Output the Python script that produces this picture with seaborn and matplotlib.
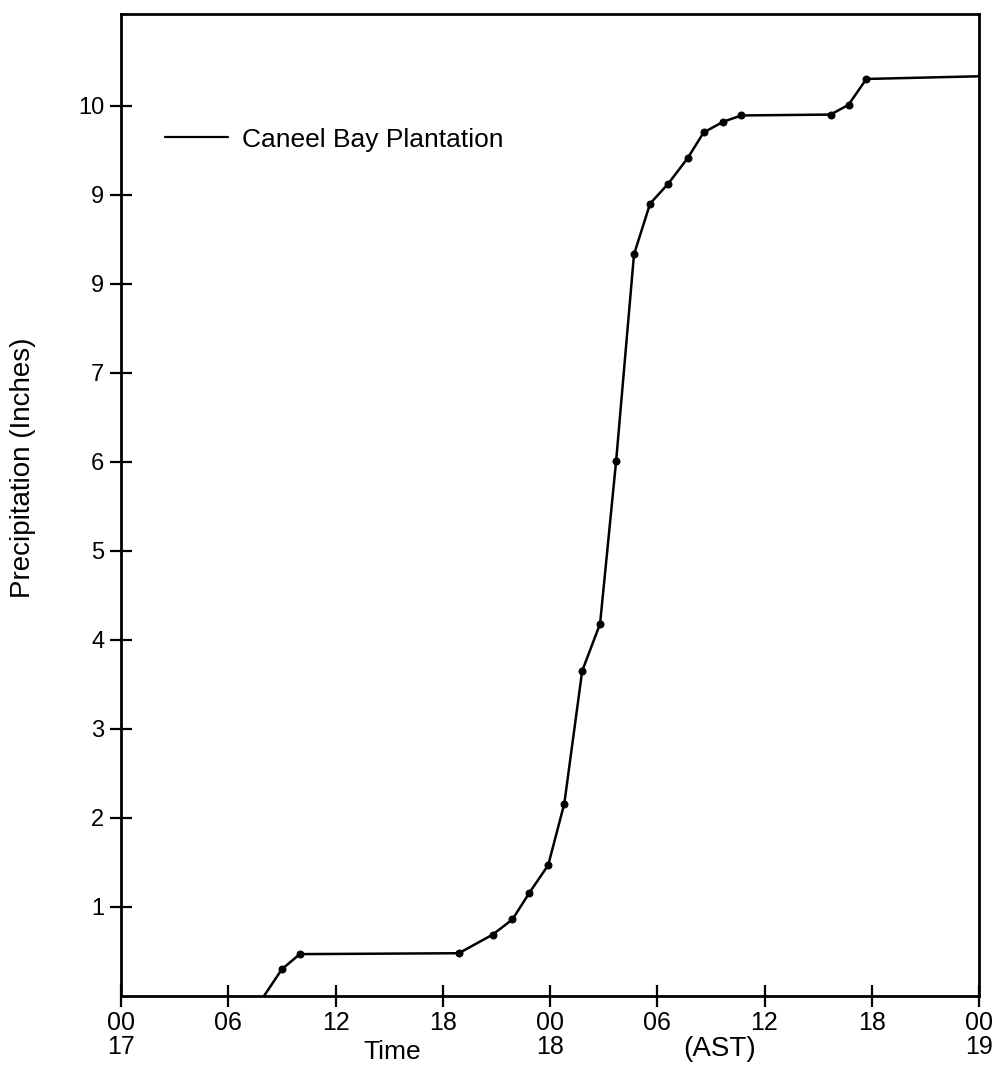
import matplotlib
matplotlib.use("Agg")
import matplotlib.pyplot as plt
from matplotlib.lines import Line2D
import seaborn as sns
import pandas as pd

# ---- data (hours since 00 AST on the 17th, cumulative inches) ----
hours = [8.0, 9.0, 10.0, 18.9, 20.8, 21.9, 22.85, 23.9, 24.8, 25.8, 26.8,
         27.7, 28.7, 29.6, 30.6, 31.7, 32.6, 33.7, 34.7, 39.7, 40.7, 41.7, 48.0]
precip = [0.0, 0.30, 0.47, 0.48, 0.69, 0.86, 1.16, 1.47, 2.16, 3.65, 4.18,
          6.01, 8.33, 8.90, 9.12, 9.41, 9.70, 9.82, 9.89, 9.90, 10.01, 10.30, 10.33]
series_name = "Caneel Bay Plantation"

x_ticks = [0, 6, 12, 18, 24, 30, 36, 42, 48]
x_tick_labels = ["00\n17", "06", "12", "18", "00\n18", "06", "12", "18", "00\n19"]
y_ticks = [1, 2, 3, 4, 5, 6, 7, 8, 9, 10]
y_tick_labels = ["1", "2", "3", "4", "5", "6", "7", "9", "9", "10"]

df = pd.DataFrame({"hour": hours, "precip": precip})

sns.set_theme(style="ticks")
plt.rcParams["font.family"] = ["Liberation Sans", "DejaVu Sans"]
plt.rcParams["text.color"] = "black"

fig = plt.figure(figsize=(10, 10.66), dpi=100)
ax = fig.add_axes([0.121, 0.0657, 0.858, 0.9212])

sns.lineplot(data=df, x="hour", y="precip", ax=ax, color="black",
             linewidth=1.8, marker="o", markersize=5,
             markeredgecolor="black", markerfacecolor="black",
             markevery=list(range(1, len(hours) - 1)), estimator=None,
             sort=False)

ax.set_xlim(0, 48)
ax.set_ylim(0, 11.03)
ax.set_xticks(x_ticks)
ax.set_xticklabels(x_tick_labels, fontsize=18, linespacing=1.0)
ax.set_yticks(y_ticks)
ax.set_yticklabels(y_tick_labels, fontsize=17)
ax.tick_params(axis="both", direction="inout", length=16, width=1.6,
               color="black", labelcolor="black")
ax.tick_params(axis="x", pad=3)
ax.tick_params(axis="y", pad=4)
for s in ax.spines.values():
    s.set_visible(True)
    s.set_color("black")
    s.set_linewidth(2.0)
ax.set_xlabel("")
ax.set_ylabel("")

ax.legend(handles=[Line2D([], [], color="black", linewidth=1.6)],
          labels=[series_name], frameon=False, loc="center left",
          bbox_to_anchor=(0.051, 0.872), fontsize=19, handlelength=2.4,
          handletextpad=0.53, borderpad=0, borderaxespad=0)

fig.text(0.023, 0.561, "Precipitation (Inches)", rotation=90,
         ha="center", va="center", fontsize=20)
fig.text(0.392, 1 - 1052 / 1066, "Time", ha="center", va="center", fontsize=19)
fig.text(0.720, 1 - 1049 / 1066, "(AST)", ha="center", va="center", fontsize=20)

fig.savefig("out.png", dpi=100)
